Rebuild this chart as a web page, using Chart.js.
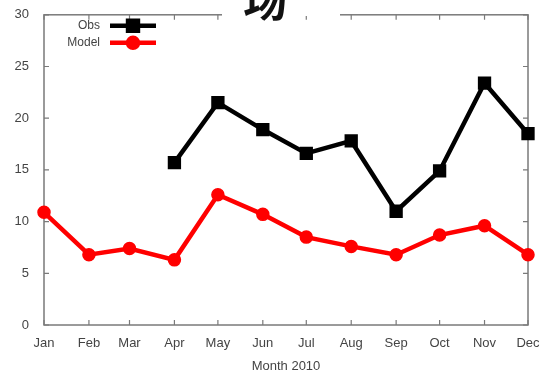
<!DOCTYPE html>
<html>
<head>
<meta charset="utf-8">
<script src="https://cdn.jsdelivr.net/npm/chart.js@4/dist/chart.umd.min.js"></script>
<style>
  html, body { margin: 0; padding: 0; background: #fff; }
  #wrap { width: 554px; height: 374px; }
</style>
</head>
<body>
<div id="wrap"><canvas id="chart" width="554" height="374"></canvas></div>
<script>
// month names and day offsets (1st of each month, days since Jan 1)
var months = ['Jan', 'Feb', 'Mar', 'Apr', 'May', 'Jun', 'Jul', 'Aug', 'Sep', 'Oct', 'Nov', 'Dec'];
var monthDays = [0, 31, 59, 90, 120, 151, 181, 212, 243, 273, 304, 334];

var obsValues = [null, null, null, 15.7, 21.5, 18.9, 16.6, 17.8, 11.0, 14.9, 23.4, 18.5];
var modelValues = [10.9, 6.8, 7.4, 6.3, 12.6, 10.7, 8.5, 7.6, 6.8, 8.7, 9.6, 6.8];

var yTicks = [0, 5, 10, 15, 20, 25, 30];
var xTitle = 'Month 2010';
var topLabel = '场';

function toPoints(values) {
    var pts = [];
    for (var i = 0; i < values.length; i++) {
        pts.push({ x: monthDays[i], y: values[i] });
    }
    return pts;
}

var labelFont = "'Liberation Sans', Arial, sans-serif";

// gnuplot style frame with inward ticks on all four sides
var framePlugin = {
    id: 'frame',
    beforeDatasetsDraw: function (chart) {
        var ctx = chart.ctx;
        var a = chart.chartArea;
        var xs = chart.scales.x;
        var ys = chart.scales.y;
        ctx.save();
        ctx.strokeStyle = '#7a7a7a';
        ctx.lineWidth = 1.5;
        ctx.strokeRect(a.left, a.top, a.right - a.left, a.bottom - a.top);
        ctx.lineWidth = 1.2;
        ctx.beginPath();
        for (var i = 0; i < monthDays.length; i++) {
            var px = xs.getPixelForValue(monthDays[i]);
            ctx.moveTo(px, a.bottom);
            ctx.lineTo(px, a.bottom - 5);
            ctx.moveTo(px, a.top);
            ctx.lineTo(px, a.top + 5);
        }
        for (var j = 0; j < yTicks.length; j++) {
            var py = ys.getPixelForValue(yTicks[j]);
            ctx.moveTo(a.left, py);
            ctx.lineTo(a.left + 5, py);
            ctx.moveTo(a.right, py);
            ctx.lineTo(a.right - 5, py);
        }
        ctx.stroke();
        ctx.restore();
    },
    afterDraw: function (chart) {
        var ctx = chart.ctx;
        var a = chart.chartArea;
        ctx.save();

        // key in the top left corner, text before the sample line
        var rows = [
            { ds: chart.data.datasets[0], y: a.top + 11 },
            { ds: chart.data.datasets[1], y: a.top + 28 }
        ];
        var textRight = a.left + 56;
        var lineStart = a.left + 66;
        var lineEnd = a.left + 112;
        for (var i = 0; i < rows.length; i++) {
            var ds = rows[i].ds;
            var y = rows[i].y;
            ctx.fillStyle = '#444';
            ctx.font = '12px ' + labelFont;
            ctx.textAlign = 'right';
            ctx.textBaseline = 'middle';
            ctx.fillText(ds.label, textRight, y);
            ctx.strokeStyle = ds.borderColor;
            ctx.lineWidth = ds.borderWidth;
            ctx.beginPath();
            ctx.moveTo(lineStart, y);
            ctx.lineTo(lineEnd, y);
            ctx.stroke();
            Chart.helpers.drawPoint(ctx, {
                pointStyle: ds.pointStyle,
                radius: ds.pointRadius - 1,
                borderWidth: 1
            }, (lineStart + lineEnd) / 2, y);
            ctx.fillStyle = ds.pointBackgroundColor;
            ctx.fill();
        }

        // heading strip cut off at the top edge
        ctx.fillStyle = '#fff';
        ctx.fillRect(222, 0, 118, 16);
        ctx.fillStyle = '#111';
        ctx.font = "bold 44px 'Noto Sans CJK SC', sans-serif";
        ctx.textAlign = 'center';
        ctx.textBaseline = 'alphabetic';
        ctx.fillText(topLabel, 265, 17);
        ctx.restore();
    }
};

new Chart(document.getElementById('chart'), {
    type: 'line',
    data: {
        datasets: [{
            label: 'Obs',
            data: toPoints(obsValues),
            borderColor: '#000',
            backgroundColor: '#000',
            pointBackgroundColor: '#000',
            pointBorderColor: '#000',
            pointStyle: 'rect',
            pointRadius: 8,
            pointBorderWidth: 2,
            borderWidth: 4.5,
            clip: false
        }, {
            label: 'Model',
            data: toPoints(modelValues),
            borderColor: '#f00',
            backgroundColor: '#f00',
            pointBackgroundColor: '#f00',
            pointBorderColor: '#f00',
            pointStyle: 'circle',
            pointRadius: 6,
            pointBorderWidth: 1.5,
            borderWidth: 4.5,
            clip: false
        }]
    },
    options: {
        responsive: false,
        animation: false,
        layout: { padding: { top: 14, right: 26, left: 0, bottom: 0 } },
        plugins: {
            legend: { display: false },
            tooltip: { enabled: false }
        },
        scales: {
            x: {
                type: 'linear',
                min: monthDays[0],
                max: monthDays[monthDays.length - 1],
                afterBuildTicks: function (scale) {
                    scale.ticks = monthDays.map(function (d) { return { value: d }; });
                },
                afterFit: function (scale) { scale.height = 49; },
                grid: { display: false },
                border: { display: false },
                ticks: {
                    autoSkip: false,
                    maxRotation: 0,
                    padding: 3,
                    color: '#444',
                    font: { family: labelFont, size: 13 },
                    callback: function (value) {
                        return months[monthDays.indexOf(value)];
                    }
                },
                title: {
                    display: true,
                    text: xTitle,
                    color: '#444',
                    font: { family: labelFont, size: 13 },
                    padding: { top: 4, bottom: 0 }
                }
            },
            y: {
                min: 0,
                max: 30,
                afterBuildTicks: function (scale) {
                    scale.ticks = yTicks.map(function (v) { return { value: v }; });
                },
                afterFit: function (scale) { scale.width = 44; },
                grid: { display: false },
                border: { display: false },
                ticks: {
                    padding: 7,
                    color: '#444',
                    font: { family: labelFont, size: 13 }
                }
            }
        }
    },
    plugins: [framePlugin]
});
</script>
</body>
</html>
